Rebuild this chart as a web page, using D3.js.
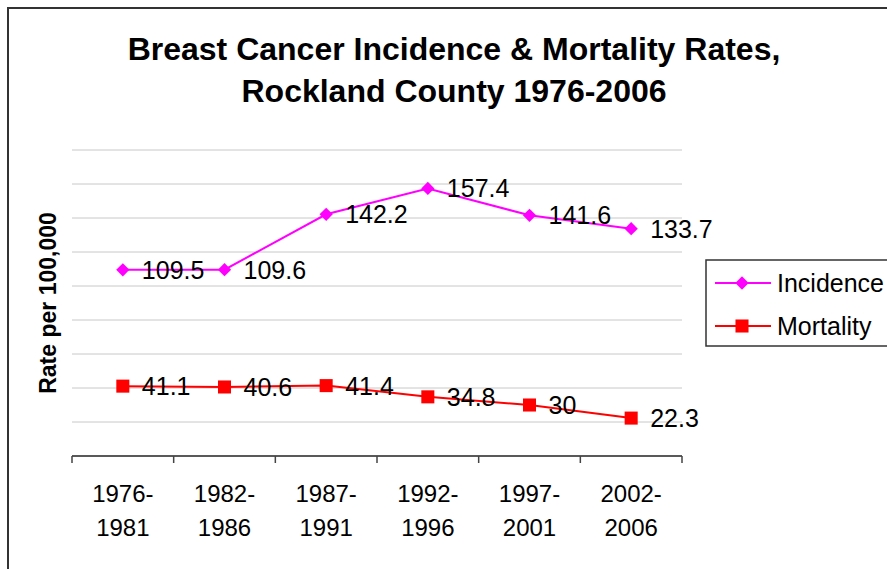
<!doctype html>
<html>
<head>
<meta charset="utf-8">
<script src="https://cdn.jsdelivr.net/npm/d3@7"></script>
<style>
  body { margin: 0; background: #fff; }
  svg { display: block; font-family: "Liberation Sans", Arial, sans-serif; }
</style>
</head>
<body>
<script>
const periods = ["1976-1981", "1982-1986", "1987-1991", "1992-1996", "1997-2001", "2002-2006"];
const incidence = [109.5, 109.6, 142.2, 157.4, 141.6, 133.7];
const mortality = [41.1, 40.6, 41.4, 34.8, 30, 22.3];
const yTicks = [0, 20, 40, 60, 80, 100, 120, 140, 160, 180];

const width = 887, height = 569;
const plot = {left: 72, right: 682, top: 150, bottom: 456};

const svg = d3.select("body").append("svg")
    .attr("width", width)
    .attr("height", height);

// outer chart frame
svg.append("rect")
    .attr("x", 8).attr("y", 8)
    .attr("width", 900).attr("height", 600)
    .attr("fill", "#fff")
    .attr("stroke", "#333")
    .attr("stroke-width", 2);

const x = d3.scaleBand().domain(periods).range([plot.left, plot.right]);
const y = d3.scaleLinear().domain([0, 180]).range([plot.bottom, plot.top]);

// gridlines
svg.append("g")
    .selectAll("line")
    .data(yTicks.slice(1))
    .join("line")
    .attr("x1", plot.left).attr("x2", plot.right)
    .attr("y1", d => y(d)).attr("y2", d => y(d))
    .attr("stroke", "#c8c8c8")
    .attr("stroke-width", 1);

// x axis
const xAxis = svg.append("g")
    .attr("transform", `translate(0,${plot.bottom})`);
xAxis.append("line")
    .attr("x1", plot.left).attr("x2", plot.right)
    .attr("stroke", "#222").attr("stroke-width", 1.5);
xAxis.selectAll(".tick")
    .data(d3.range(periods.length + 1))
    .join("line")
    .attr("x1", i => plot.left + i * x.bandwidth())
    .attr("x2", i => plot.left + i * x.bandwidth())
    .attr("y1", 0).attr("y2", 7)
    .attr("stroke", "#444").attr("stroke-width", 1.5);

const xLabels = xAxis.selectAll("text")
    .data(periods)
    .join("text")
    .attr("text-anchor", "middle")
    .attr("font-size", 24)
    .attr("fill", "#000");
xLabels.append("tspan")
    .attr("x", d => x(d) + x.bandwidth() / 2)
    .attr("y", 46)
    .text(d => d.split("-")[0] + "-");
xLabels.append("tspan")
    .attr("x", d => x(d) + x.bandwidth() / 2)
    .attr("y", 80)
    .text(d => d.split("-")[1]);

// y axis title
svg.append("text")
    .attr("transform", `translate(56,303) rotate(-90)`)
    .attr("text-anchor", "middle")
    .attr("font-size", 23)
    .attr("font-weight", "bold")
    .text("Rate per 100,000");

// title
const title = svg.append("text")
    .attr("text-anchor", "middle")
    .attr("font-size", 32)
    .attr("font-weight", "bold");
title.append("tspan").attr("x", 454).attr("y", 60).text("Breast Cancer Incidence & Mortality Rates,");
title.append("tspan").attr("x", 454).attr("y", 102).text("Rockland County 1976-2006");

const cx = (d, i) => x(periods[i]) + x.bandwidth() / 2;
const line = d3.line().x(cx).y(d => y(d));

const series = [
  {name: "Incidence", values: incidence, color: "#ff00ff", symbol: d3.symbolSquare, size: 88, rotate: 45},
  {name: "Mortality", values: mortality, color: "#ff0000", symbol: d3.symbolSquare, size: 170, rotate: 0}
];

for (const s of series) {
  const g = svg.append("g");
  g.append("path")
      .attr("d", line(s.values))
      .attr("fill", "none")
      .attr("stroke", s.color)
      .attr("stroke-width", 2);
  g.selectAll("path.mark")
      .data(s.values)
      .join("path")
      .attr("class", "mark")
      .attr("transform", (d, i) => `translate(${cx(d, i)},${y(d)}) rotate(${s.rotate})`)
      .attr("d", d3.symbol(s.symbol, s.size))
      .attr("fill", s.color);
  g.selectAll("text")
      .data(s.values)
      .join("text")
      .attr("x", (d, i) => cx(d, i) + 19)
      .attr("y", d => y(d) + 9)
      .attr("font-size", 25)
      .attr("fill", "#000")
      .text(d => d);
}

// legend
const legend = svg.append("g");
legend.append("rect")
    .attr("x", 706).attr("y", 260)
    .attr("width", 200).attr("height", 86)
    .attr("fill", "#fff")
    .attr("stroke", "#333")
    .attr("stroke-width", 1.5);
series.forEach((s, i) => {
  const ly = 283 + i * 43;
  legend.append("line")
      .attr("x1", 715).attr("x2", 771)
      .attr("y1", ly).attr("y2", ly)
      .attr("stroke", s.color).attr("stroke-width", 2);
  legend.append("path")
      .attr("transform", `translate(742,${ly}) rotate(${s.rotate})`)
      .attr("d", d3.symbol(s.symbol, s.size))
      .attr("fill", s.color);
  legend.append("text")
      .attr("x", 777).attr("y", ly + 9)
      .attr("font-size", 25)
      .text(s.name);
});
</script>
</body>
</html>
